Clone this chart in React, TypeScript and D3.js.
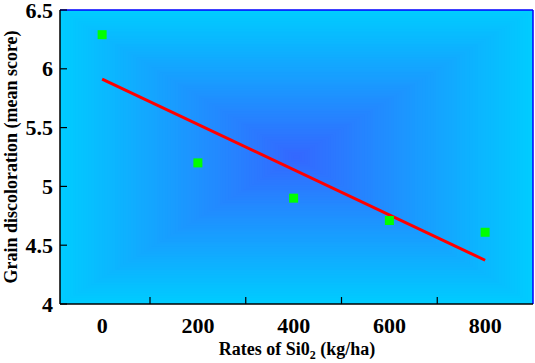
import React from "react";
import * as d3 from "d3";

// rates of SiO2 (kg/ha) and mean discoloration score
const rates = [0, 200, 400, 600, 800];
const scores = [6.29, 5.2, 4.9, 4.71, 4.61];
const xTickLabels = [0, 200, 400, 600, 800];
const xTickMarks = [100, 300, 500, 700];
const yTicks = [4, 4.5, 5, 5.5, 6, 6.5];

const W = 535;
const H = 363;
const plot = { left: 60, right: 533, top: 10, bottom: 304 };
const FONT = "'Liberation Serif', 'Times New Roman', serif";

export default function App() {
  const x = d3.scaleLinear().domain([-88, 900]).range([plot.left, plot.right]);
  const y = d3.scaleLinear().domain([4, 6.5]).range([plot.bottom, plot.top]);

  // least squares fit over the points
  const mx = d3.mean(rates)!;
  const my = d3.mean(scores)!;
  const slope =
    d3.sum(rates, (r, i) => (r - mx) * (scores[i] - my)) /
    d3.sum(rates, (r) => (r - mx) ** 2);
  const fit = (r: number) => my + slope * (r - mx);
  const fitPath = d3
    .line<number>()
    .x((r) => x(r))
    .y((r) => y(fit(r)))([0, 800]);

  // rectangular "from center" fill, like the old office charts
  const steps = 90;
  const col = d3.interpolateRgb("#00ccff", "#3468ff");
  const cx = (plot.left + plot.right) / 2;
  const cy = (plot.top + plot.bottom) / 2;
  const hw = (plot.right - plot.left) / 2;
  const hh = (plot.bottom - plot.top) / 2;
  const bands = d3.range(steps).map((i) => {
    const k = 1 - i / steps;
    return { x: cx - hw * k, y: cy - hh * k, w: 2 * hw * k, h: 2 * hh * k, c: col(i / (steps - 1)) };
  });

  const sq = 9;

  return (
    <svg width={W} height={H} style={{ position: "absolute", left: 0, top: 0, background: "#fff" }}>
      {bands.map((b, i) => (
        <rect key={i} x={b.x} y={b.y} width={b.w} height={b.h} fill={b.c} />
      ))}

      <path d={fitPath || ""} fill="none" stroke="#ff0000" strokeWidth={3} />

      {rates.map((r, i) => (
        <rect key={r} x={x(r) - sq / 2} y={y(scores[i]) - sq / 2} width={sq} height={sq} fill="#00ff00" />
      ))}

      {/* frame */}
      <line x1={plot.left} x2={plot.right} y1={plot.top} y2={plot.top} stroke="#0000ff" strokeWidth={1.5} />
      <line x1={plot.right} x2={plot.right} y1={plot.top} y2={plot.bottom} stroke="#0000ff" strokeWidth={1.5} />
      <line x1={plot.left} x2={plot.left} y1={plot.top} y2={plot.bottom} stroke="#000" strokeWidth={1.5} />
      <line x1={plot.left} x2={plot.right} y1={plot.bottom} y2={plot.bottom} stroke="#000" strokeWidth={1.5} />

      {yTicks.map((t) => (
        <g key={t}>
          <line x1={plot.left} x2={plot.left + 7} y1={y(t)} y2={y(t)} stroke="#000" strokeWidth={1.2} />
          <text
            x={53}
            y={y(t) + 7.5}
            textAnchor="end"
            fontFamily={FONT}
            fontWeight="bold"
            fontSize={22}
          >
            {t}
          </text>
        </g>
      ))}

      {xTickMarks.map((t) => (
        <line key={t} x1={x(t)} x2={x(t)} y1={plot.bottom} y2={plot.bottom - 7} stroke="#000" strokeWidth={1.2} />
      ))}
      {xTickLabels.map((t) => (
        <text key={t} x={x(t)} y={333} textAnchor="middle" fontFamily={FONT} fontWeight="bold" fontSize={22}>
          {t}
        </text>
      ))}

      <text x={297} y={355} textAnchor="middle" fontFamily={FONT} fontWeight="bold" fontSize={18}>
        Rates of Si0
        <tspan fontSize={12} dy={4}>2</tspan>
        <tspan dy={-4}> (kg/ha)</tspan>
      </text>

      <text
        transform={`translate(17,${(plot.top + plot.bottom) / 2}) rotate(-90)`}
        textAnchor="middle"
        fontFamily={FONT}
        fontWeight="bold"
        fontSize={18}
      >
        Grain discoloration (mean score)
      </text>
    </svg>
  );
}
